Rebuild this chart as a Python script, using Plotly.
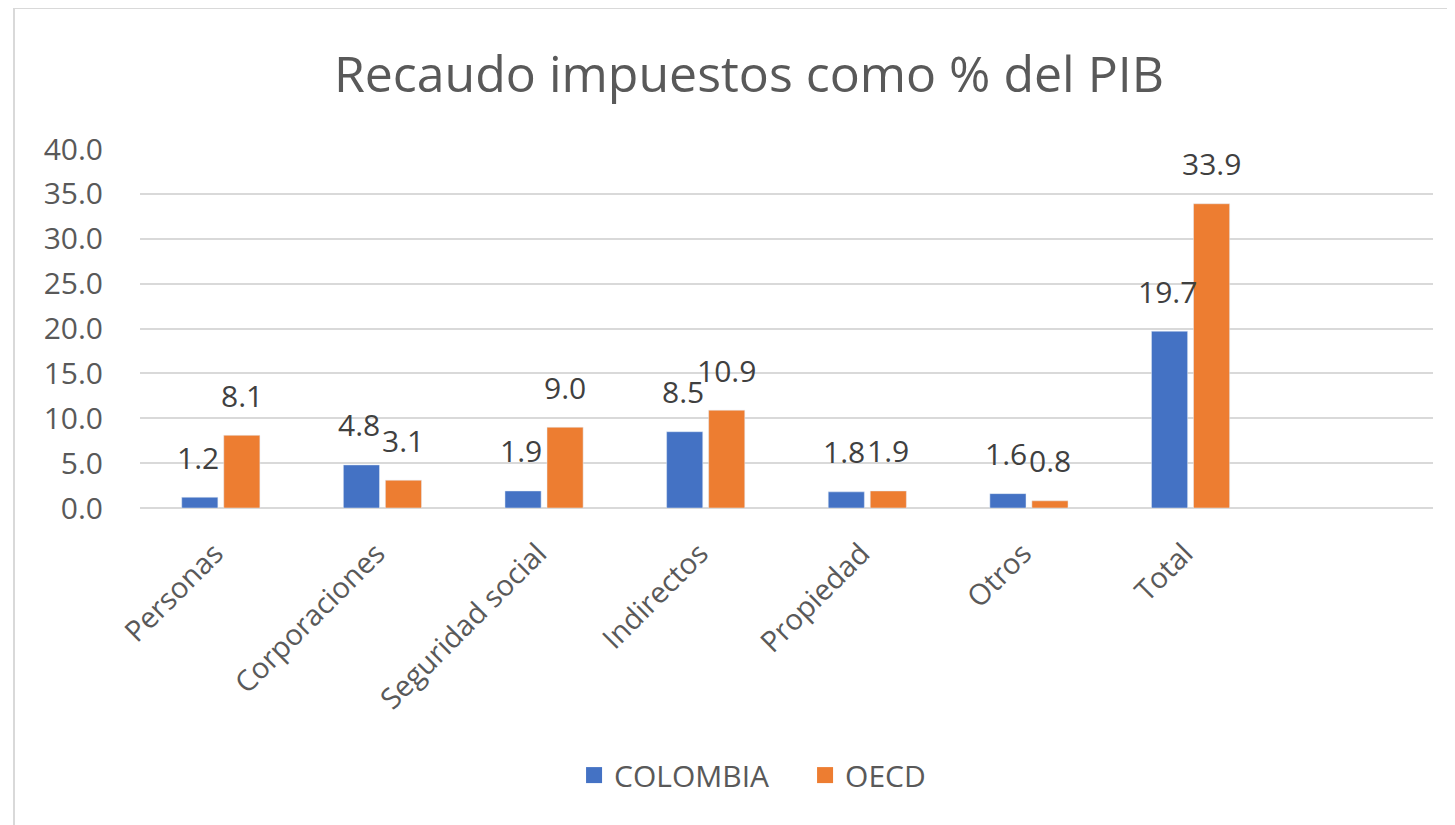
import plotly.graph_objects as go

categories = ["Personas", "Corporaciones", "Seguridad social", "Indirectos", "Propiedad", "Otros", "Total"]
colombia = [1.2, 4.8, 1.9, 8.5, 1.8, 1.6, 19.7]
oecd = [8.1, 3.1, 9.0, 10.9, 1.9, 0.8, 33.9]
series_names = ["COLOMBIA", "OECD"]
y_ticks = [0, 5, 10, 15, 20, 25, 30, 35, 40]
y_tick_labels = ["0.0", "5.0", "10.0", "15.0", "20.0", "25.0", "30.0", "35.0", "40.0"]

BLUE = "#4472C4"
ORANGE = "#ED7D31"
FONT = "Open Sans"

fig = go.Figure()
fig.add_trace(go.Bar(name=series_names[0], x=categories, y=colombia, marker_color=BLUE, showlegend=False))
fig.add_trace(go.Bar(name=series_names[1], x=categories, y=oecd, marker_color=ORANGE, showlegend=False))
# legend entries with larger square swatches
for nm, col in zip(series_names, [BLUE, ORANGE]):
    fig.add_trace(go.Scatter(name=nm, x=[None], y=[None], mode="markers",
                             marker=dict(symbol="square", size=16, color=col), showlegend=True))

annotations = []
for cat, v in zip(categories, colombia):
    annotations.append(dict(x=cat, y=v, xref="x", yref="y", text=f"{v:.1f}", showarrow=False,
                            xshift=-23, yshift=40, font=dict(size=30, color="#404040", family=FONT)))
for cat, v in zip(categories, oecd):
    annotations.append(dict(x=cat, y=v, xref="x", yref="y", text=f"{v:.1f}", showarrow=False,
                            xshift=21, yshift=40, font=dict(size=30, color="#404040", family=FONT)))

fig.update_layout(
    width=1455, height=825,
    paper_bgcolor="white", plot_bgcolor="white",
    margin=dict(l=132, r=30, t=141, b=325),
    barmode="group", bargap=0.48, bargroupgap=0.14,
    font=dict(family=FONT, color="#595959"),
    title=dict(text="Recaudo impuestos como % del PIB", xref="container", x=741 / 1455, xanchor="center",
               yref="container", y=1 - 66 / 825, yanchor="middle",
               font=dict(size=50, color="#595959", family=FONT)),
    showlegend=True,
    legend=dict(orientation="h", x=0.3357, xanchor="left", y=-0.744, yanchor="middle",
                font=dict(size=30, color="#595959", family=FONT),
                traceorder="normal", itemwidth=30, entrywidth=186, entrywidthmode="pixels"),
    annotations=annotations,
    shapes=[dict(type="rect", xref="paper", yref="paper", x0=-126 / 1293, x1=1.5, y0=-2, y1=1 + 141 / 359,
                 line=dict(color="#D9D9D9", width=2), fillcolor="rgba(0,0,0,0)", layer="below")],
)
fig.update_xaxes(range=[-0.5, 7.5], showgrid=False, showline=False, zeroline=False,
                 tickangle=-45, tickfont=dict(size=29, color="#595959", family=FONT),
                 ticks="outside", ticklen=16, tickcolor="white", ticklabelshift=-6)
fig.update_yaxes(range=[0, 40], tickvals=y_ticks, ticktext=y_tick_labels,
                 showgrid=True, gridcolor="#D9D9D9", gridwidth=2, zeroline=True, zerolinecolor="#D9D9D9",
                 zerolinewidth=2, showline=False,
                 tickfont=dict(size=30, color="#595959", family=FONT),
                 ticks="outside", ticklen=30, tickcolor="white")

fig.write_html("out.html")
